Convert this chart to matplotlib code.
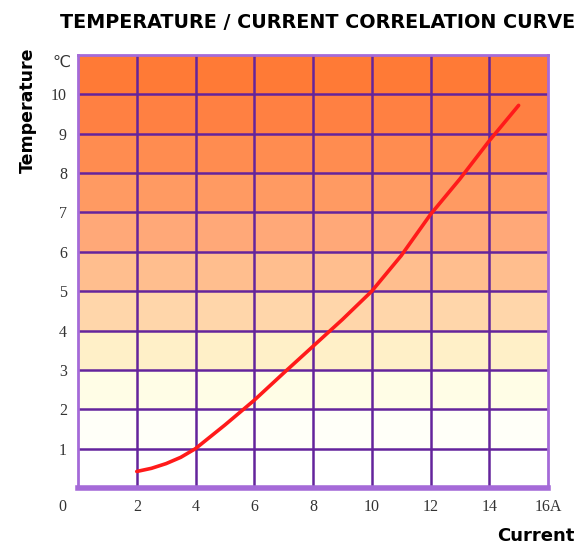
import numpy as np
import matplotlib
matplotlib.use('Agg')
import matplotlib.pyplot as plt

# data
current = [2, 2.5, 3, 3.5, 4, 5, 6, 7, 8, 9, 10, 11, 12, 13, 14, 15]
temperature = [0.42, 0.5, 0.62, 0.78, 1.0, 1.6, 2.23, 2.92, 3.6, 4.28, 5.0, 5.9, 6.95, 7.85, 8.82, 9.72]
x_ticks = [2, 4, 6, 8, 10, 12, 14, 16]
x_labels = ['2', '4', '6', '8', '10', '12', '14', '16A']
y_ticks = [1, 2, 3, 4, 5, 6, 7, 8, 9, 10]
y_labels = ['1', '2', '3', '4', '5', '6', '7', '8', '9', '10']

# colour of each 1-degree band, bottom to top
band_colors = ['#FFFFFF', '#FFFFF8', '#FFFDE6', '#FFF0C8', '#FFD6AA', '#FFBE8E',
               '#FFA878', '#FF9A62', '#FF8C50', '#FF8042', '#FF7A36']

grid_col = '#64249C'
border_col = '#A56AD8'

fig = plt.figure(figsize=(5.87, 5.49), dpi=100)
ax = fig.add_axes([78 / 587, 61 / 549, 470 / 587, 433 / 549])

for i, c in enumerate(band_colors):
    ax.axhspan(i, i + 1, color=c, zorder=0, lw=0)

for x in x_ticks[:-1]:
    ax.axvline(x, color=grid_col, lw=1.8, zorder=1)
for y in y_ticks:
    ax.axhline(y, color=grid_col, lw=1.8, zorder=1)

ax.plot(current, temperature, color='#FF1A1A', lw=2.6, zorder=3, solid_capstyle='round')

ax.set_xlim(0, 16)
ax.set_ylim(0, 11)

tick_font = dict(family=['Liberation Serif', 'DejaVu Sans'], size=11.5, color='#333333')
ax.set_xticks(x_ticks)
ax.set_xticklabels(x_labels, **tick_font)
ax.set_yticks(y_ticks)
ax.set_yticklabels(y_labels, **tick_font)
ax.tick_params(length=0, pad=8)
ax.tick_params(axis='y', pad=8)

ax.annotate('0', xy=(0, 0), xytext=(-11, -14), textcoords='offset points',
            ha='center', va='center', **tick_font)
ax.annotate('\u2103', xy=(0, 11), xytext=(-12, -6), textcoords='offset points',
            ha='center', va='center', **tick_font)

for s in ['left', 'right', 'top']:
    ax.spines[s].set_color(border_col)
    ax.spines[s].set_linewidth(2)
ax.spines['bottom'].set_color(border_col)
ax.spines['bottom'].set_linewidth(4)

fig.text(318 / 587, 1 - 22 / 549, 'TEMPERATURE / CURRENT CORRELATION CURVE',
         ha='center', va='center', fontsize=13.8, fontweight='bold',
         family='DejaVu Sans')
fig.text(28 / 587, 1 - 110 / 549, 'Temperature', rotation=90,
         ha='center', va='center', fontsize=12.5, fontweight='bold',
         family='DejaVu Sans')
fig.text(536 / 587, 1 - 536 / 549, 'Current',
         ha='center', va='center', fontsize=13, fontweight='bold',
         family='DejaVu Sans')

fig.savefig('out.png', dpi=100)
